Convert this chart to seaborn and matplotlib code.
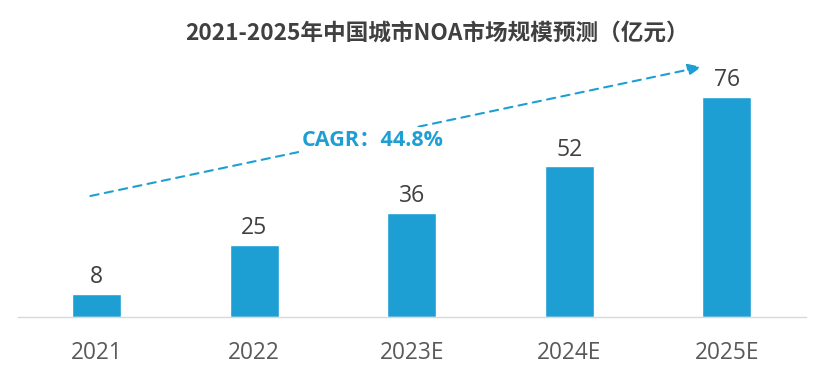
import matplotlib
matplotlib.use("Agg")
import matplotlib.pyplot as plt
import seaborn as sns
import pandas as pd

years = ["2021", "2022", "2023E", "2024E", "2025E"]
market = [8, 25, 36, 52, 76]
title = "2021-2025年中国城市NOA市场规模预测（亿元）"
cagr_text = "CAGR：44.8%"

df = pd.DataFrame({"year": years, "value": market})

sns.set_style("white")
plt.rcParams['font.family'] = ['Open Sans', 'Noto Sans CJK SC', 'DejaVu Sans']

blue = "#1E9FD4"
fig = plt.figure(figsize=(8.22, 3.71), dpi=100)
ax = fig.add_axes([18 / 822, 54 / 371, 787.5 / 822, 289.5 / 371])

sns.barplot(data=df, x="year", y="value", color=blue, width=0.31,
            saturation=1, ax=ax)

ax.set_xlim(-0.5, 4.5)
ax.set_ylim(0, 100)
ax.set_xlabel("")
ax.set_ylabel("")
ax.set_yticks([])
for s in ["top", "right", "left"]:
    ax.spines[s].set_visible(False)
ax.spines["bottom"].set_color("#D9D9D9")
ax.spines["bottom"].set_linewidth(1)
ax.tick_params(axis="x", length=0, pad=17, labelsize=16.3, labelcolor="#595959")

for i, v in enumerate(market):
    ax.text(i, v + 1.6, str(v), ha="center", va="bottom", fontsize=16.5,
            color="#404040")

# dashed trend arrow
ax.annotate("", xy=(3.84, 86.4), xytext=(-0.04, 41.8),
            arrowprops=dict(arrowstyle="-|>,head_length=0.8,head_width=0.35",
                            color=blue, lw=1.5, linestyle=(0, (4, 3)),
                            shrinkA=0, shrinkB=0))
ax.text(1.754, 61.1, cagr_text, ha="center", va="center", fontsize=15.5,
        fontweight="bold", color=blue, family=['Open Sans', 'Noto Sans CJK SC'],
        bbox=dict(facecolor="white", edgecolor="none", pad=2))

fig.text(437 / 822, 1 - 33 / 371, title, ha="center", va="center",
         fontsize=16.3, fontweight="bold", color="#404040",
         family=['Noto Sans CJK SC', 'DejaVu Sans'])

fig.savefig("out.png", dpi=100)
